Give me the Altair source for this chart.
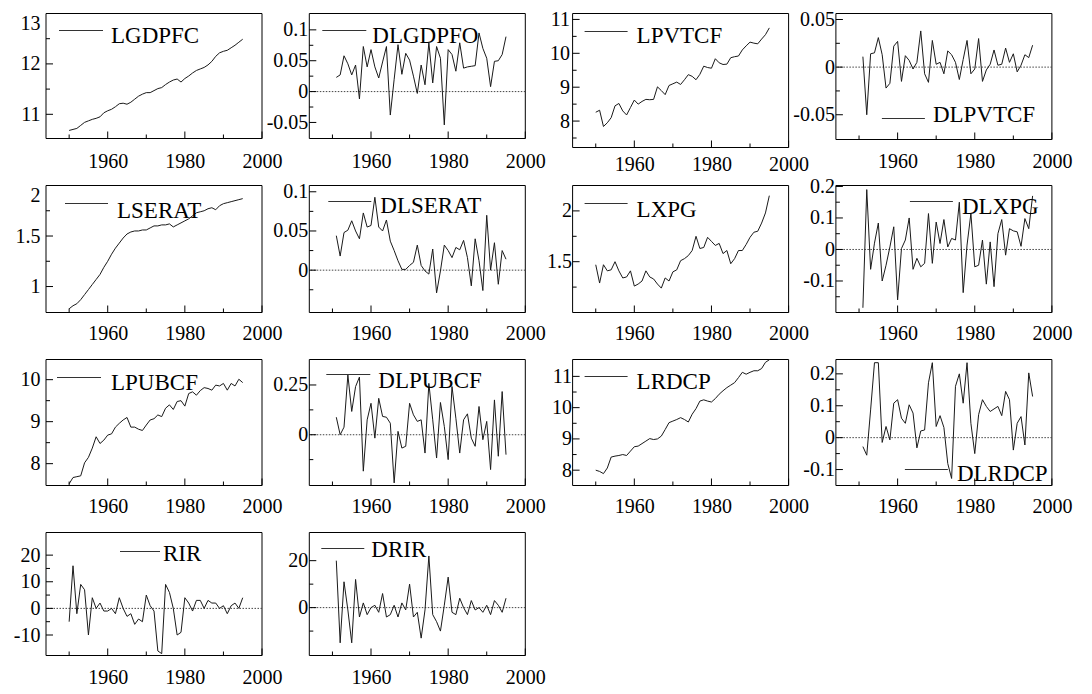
import altair as alt
import pandas as pd

YEARS = list(range(1950, 1996))
DYEARS = list(range(1951, 1996))

LGDPFC = [10.68, 10.70, 10.72, 10.78, 10.84, 10.87, 10.90, 10.92, 10.95, 11.03,
          11.07, 11.10, 11.15, 11.21, 11.22, 11.20, 11.24, 11.30, 11.36, 11.40,
          11.43, 11.43, 11.47, 11.51, 11.53, 11.59, 11.64, 11.68, 11.70, 11.64,
          11.71, 11.76, 11.82, 11.87, 11.90, 11.93, 11.98, 12.05, 12.15, 12.22,
          12.25, 12.27, 12.32, 12.37, 12.43, 12.49]
DLGDPFO = [0.023, 0.027, 0.058, 0.045, 0.027, 0.043, -0.012, 0.073, 0.040, 0.068,
           0.040, 0.022, 0.048, 0.073, -0.038, 0.020, 0.076, 0.028, 0.062, 0.051,
           0.025, -0.003, 0.043, 0.011, 0.079, 0.014, 0.073, 0.054, -0.054, 0.068,
           0.060, 0.033, 0.079, 0.038, 0.040, 0.041, 0.042, 0.095, 0.070, 0.054,
           0.008, 0.049, 0.050, 0.060, 0.089]
LPVTCF = [8.26, 8.32, 7.84, 7.95, 8.10, 8.45, 8.52, 8.30, 8.18, 8.40,
          8.62, 8.50, 8.58, 8.64, 8.63, 8.64, 9.01, 8.90, 8.78, 9.05,
          9.10, 9.15, 9.08, 9.22, 9.37, 9.32, 9.22, 9.38, 9.62, 9.58,
          9.56, 9.84, 9.72, 9.67, 9.68, 9.87, 9.90, 9.92, 10.10, 10.22,
          10.33, 10.30, 10.28, 10.42, 10.55, 10.75]
DLPVTCF = [0.011, -0.050, 0.014, 0.015, 0.031, 0.013, -0.022, -0.017, 0.022, 0.027,
           -0.015, 0.012, 0.007, -0.002, 0.005, 0.038, -0.007, -0.016, 0.028, 0.003,
           0.005, -0.007, 0.017, 0.013, 0.005, -0.013, 0.008, 0.028, -0.007, -0.002,
           0.030, -0.015, -0.003, 0.003, 0.018, 0.002, 0.003, 0.020, 0.005, 0.014,
           -0.005, 0.002, 0.013, 0.010, 0.023]
LSERAT = [0.78, 0.81, 0.83, 0.87, 0.92, 0.97, 1.02, 1.07, 1.12, 1.19,
          1.25, 1.32, 1.38, 1.43, 1.48, 1.52, 1.54, 1.55, 1.55, 1.56,
          1.56, 1.58, 1.60, 1.60, 1.61, 1.61, 1.62, 1.59, 1.61, 1.63,
          1.65, 1.67, 1.70, 1.73, 1.74, 1.75, 1.77, 1.78, 1.76, 1.80,
          1.82, 1.83, 1.84, 1.85, 1.86, 1.87]
DLSERAT = [0.044, 0.018, 0.048, 0.051, 0.063, 0.050, 0.040, 0.073, 0.055, 0.057,
           0.093, 0.055, 0.050, 0.064, 0.037, 0.025, 0.012, 0.001, 0.001, 0.006,
           0.010, 0.032, 0.006, -0.001, -0.005, 0.027, -0.029, -0.001, 0.032, 0.025,
           0.016, 0.029, 0.026, 0.038, 0.016, -0.020, 0.040, 0.012, -0.026, 0.070,
           0.000, 0.035, -0.018, 0.025, 0.014]
LXPG = [1.47, 1.29, 1.47, 1.41, 1.42, 1.50, 1.41, 1.34, 1.35, 1.41,
        1.26, 1.28, 1.31, 1.41, 1.35, 1.33, 1.28, 1.24, 1.34, 1.31,
        1.40, 1.42, 1.51, 1.53, 1.56, 1.61, 1.75, 1.63, 1.64, 1.74,
        1.70, 1.66, 1.68, 1.58, 1.61, 1.48, 1.53, 1.61, 1.61, 1.67,
        1.74, 1.79, 1.80, 1.88, 1.98, 2.15]
DLXPG = [-0.185, 0.190, -0.063, 0.020, 0.084, -0.100, -0.050, 0.008, 0.072, -0.160,
         0.003, 0.030, 0.100, -0.063, -0.028, -0.055, -0.044, 0.114, -0.044, 0.087,
         0.019, 0.095, 0.008, 0.035, 0.030, 0.150, -0.137, 0.014, 0.114, -0.055,
         -0.050, 0.030, -0.110, 0.024, -0.118, 0.050, 0.095, -0.018, 0.066, 0.059,
         0.056, 0.010, 0.098, 0.066, 0.170]
LPUBCF = [7.52, 7.67, 7.69, 7.71, 8.02, 8.15, 8.37, 8.64, 8.48, 8.56,
          8.68, 8.71, 8.87, 8.96, 9.04, 9.10, 8.87, 8.87, 8.82, 8.79,
          8.92, 9.04, 9.07, 9.16, 9.12, 9.32, 9.40, 9.29, 9.48, 9.50,
          9.37, 9.67, 9.71, 9.63, 9.74, 9.81, 9.79, 9.75, 9.87, 9.85,
          9.91, 9.75, 9.91, 9.85, 10.01, 9.93]
DLPUBCF = [0.088, 0.000, 0.038, 0.300, 0.117, 0.242, 0.290, -0.183, 0.075, 0.158,
           -0.017, 0.183, 0.092, 0.088, 0.058, -0.242, 0.017, -0.067, -0.058, 0.158,
           0.100, 0.067, 0.075, -0.092, 0.258, 0.075, -0.117, 0.162, 0.042, -0.125,
           0.242, 0.083, -0.092, 0.075, 0.105, -0.017, -0.058, 0.142, -0.025, 0.067,
           -0.175, 0.175, -0.108, 0.217, -0.100]
LRDCP = [8.00, 7.96, 7.89, 8.07, 8.42, 8.45, 8.47, 8.50, 8.47, 8.61,
         8.75, 8.77, 8.85, 8.93, 9.01, 8.98, 9.00, 9.09, 9.30, 9.52,
         9.57, 9.62, 9.68, 9.62, 9.54, 9.79, 9.97, 10.21, 10.25, 10.21,
         10.18, 10.29, 10.43, 10.54, 10.64, 10.72, 10.80, 10.96, 11.13, 11.07,
         11.13, 11.18, 11.18, 11.25, 11.45, 11.53]
DLRDCP = [-0.028, -0.055, 0.087, 0.235, 0.235, -0.015, 0.035, -0.007, 0.108, 0.119,
          0.061, 0.045, 0.103, 0.077, -0.032, 0.021, 0.024, 0.172, 0.235, 0.035,
          0.069, 0.032, -0.081, -0.128, 0.161, 0.200, 0.108, 0.235, 0.045, -0.050,
          0.072, 0.119, 0.098, 0.082, 0.090, 0.098, 0.069, 0.145, 0.119, -0.039,
          0.045, 0.066, -0.023, 0.203, 0.129]
RIR = [-5, 16, -2, 9, 7, -10, 4, 0, 2, -1,
       -1, 0, -2, 4, 0, -3, -2, -6, -4, -5,
       5, 1, -1, -16, -17, 9, 6, 0, -10, -9,
       4, 2, -1, 3, 3, 0, 3, 2, 2, 0,
       1, -2, 1, 2, 0, 4]
DRIR = [20, -15, 11, -1, -15, 12, -4, 2, -3, 0,
        1, -2, 6, -4, -3, 1, -4, 2, -1, 10,
        -4, -2, -13, -1, 22, -3, -6, -10, 1, 13,
        -2, -3, 4, 0, -3, 3, -1, 0, -2, 1,
        -3, 3, 1, -2, 4]

FONT = "Liberation Serif"
TICK_FS = 20
LEG_FS = 23
W = 216
XDOM = [1944, 2000]
XMAJOR = [1960, 1980, 2000]
XMINOR = [1950, 1970, 1990]

# name, years, values, y-domain, major ticks, minor ticks, layout height, frame height,
# x label pad, y label pad, flush top label, legend (x1, x2, y, tx, ty), zero line
PANELS = [
    ("LGDPFC", YEARS, LGDPFC, [10.52, 13.0], [11, 12, 13], [11.5, 12.5], 125, 125, 13, 6, True, (13, 57, 17, 65, 29.7), False),
    ("DLGDPFO", DYEARS, DLGDPFO, [-0.076, 0.1265], [-0.05, 0, 0.05, 0.1], [-0.025, 0.025, 0.075], 125, 125, 13, 1.5, False, (13, 57, 17, 63, 29.7), True),
    ("LPVTCF", YEARS, LPVTCF, [7.22, 11.175], [8, 9, 10, 11], [7.5, 8.5, 9.5, 10.5], 125, 134, 16, 3, False, (12, 55, 18, 64, 29.7), False),
    ("DLPVTCF", DYEARS, DLPVTCF, [-0.076, 0.0563], [-0.05, 0, 0.05], [-0.025, 0.025], 125, 126, 13, 1.5, False, (46, 89, 105, 97, 108.7), True),
    ("LSERAT", YEARS, LSERAT, [0.743, 2.0], [1, 1.5, 2], [1.25, 1.75], 127, 127, 10.5, 6, True, (19, 62, 18, 71, 32.7), False),
    ("DLSERAT", DYEARS, DLSERAT, [-0.054, 0.108], [0, 0.05, 0.1], [-0.025, 0.025, 0.075], 127, 127, 10.5, 1.5, False, (19, 62, 16, 71, 27.7), True),
    ("LXPG", YEARS, LXPG, [1.0, 2.25], [1.5, 2], [1.25, 1.75], 127, 127, 10.5, 1, False, (12, 55, 18, 64, 31), False),
    ("DLXPG", DYEARS, DLXPG, [-0.2, 0.203], [-0.1, 0, 0.1, 0.2], [-0.15, -0.05, 0.05, 0.15], 127, 127, 10.5, 1.5, False, (74, 117, 16, 126, 28.3), True),
    ("LPUBCF", YEARS, LPUBCF, [7.48, 10.48], [8, 9, 10], [8.5, 9.5], 126, 126, 10.5, 6, False, (11, 55, 18, 65, 30.3), False),
    ("DLPUBCF", DYEARS, DLPUBCF, [-0.255, 0.378], [0, 0.25], [-0.125, 0.125], 126, 126, 10.5, 1.5, False, (17, 61, 15, 69, 28.3), True),
    ("LRDCP", YEARS, LRDCP, [7.51, 11.54], [8, 9, 10, 11], [8.5, 9.5, 10.5], 126, 126, 10.5, 1, False, (12, 55, 17, 64, 29.7), False),
    ("DLRDCP", DYEARS, DLRDCP, [-0.15, 0.245], [-0.1, 0, 0.1, 0.2], [-0.05, 0.05, 0.15], 126, 126, 10.5, 1.5, False, (69, 112, 110, 121, 121.3), True),
    ("RIR", YEARS, RIR, [-17.7, 28.5], [-10, 0, 10, 20], [-5, 5, 15], 123, 123, 11.5, 6, False, (74, 114, 19, 117, 28), True),
    ("DRIR", DYEARS, DRIR, [-20.4, 32], [0, 20], [-10, 10], 123, 123, 11.5, 1.5, False, (12, 55, 16, 62, 24), True),
]

ONE = alt.Data(values=[{"k": 1}])


def make_panel(p):
    name, years, vals, ydom, major, minor, h, fh, xpad, ypad, flush, leg, zero = p
    df = pd.DataFrame({"year": years, "value": vals})
    xs = alt.Scale(domain=XDOM, nice=False, zero=False)
    ys = alt.Scale(domain=ydom, nice=False, zero=False, range=[fh, 0])

    line = alt.Chart(df).mark_line(color="#1a1a1a", strokeWidth=1).encode(
        x=alt.X("year:Q", scale=xs, axis=alt.Axis(
            values=XMAJOR, format="d", ticks=False, domain=False, grid=False,
            labelFont=FONT, labelFontSize=TICK_FS, labelColor="black",
            labelPadding=xpad, labelFlush=False, labelOverlap=False, title=None)),
        y=alt.Y("value:Q", scale=ys, axis=alt.Axis(
            values=major, labelExpr="'' + datum.value", ticks=False,
            domain=False, grid=False, labelFont=FONT, labelFontSize=TICK_FS,
            labelColor="black", labelPadding=ypad, labelFlush=flush,
            labelOverlap=False, title=None)),
    )

    def ytick(vals_, size):
        d = pd.DataFrame({"v": vals_})
        return alt.Chart(d).mark_rule(color="black", strokeWidth=1).encode(
            y=alt.Y("v:Q", scale=ys, axis=None), x=alt.value(0), x2=alt.value(size))

    def xtick(vals_, size):
        d = pd.DataFrame({"v": vals_})
        return alt.Chart(d).mark_rule(color="black", strokeWidth=1).encode(
            x=alt.X("v:Q", scale=xs, axis=None), y=alt.value(fh), y2=alt.value(fh - size))

    layers = []
    frame = alt.Chart(ONE).mark_rect(fill="transparent", stroke="black", strokeWidth=1).encode(
        x=alt.value(0), x2=alt.value(W), y=alt.value(0), y2=alt.value(fh))
    layers.append(frame)
    if zero:
        layers.append(alt.Chart(ONE).mark_rule(color="#444", strokeWidth=1, strokeDash=[1.5, 1.5]).encode(
            y=alt.YDatum(0, type="quantitative", scale=ys, axis=None)))
    layers.append(line)
    layers.append(ytick(major, 7))
    layers.append(ytick(minor, 4))
    layers.append(xtick(XMAJOR, 7))
    layers.append(xtick(XMINOR, 4))
    x1, x2, ly, tx, ty = leg
    layers.append(alt.Chart(ONE).mark_rule(color="#333", strokeWidth=1).encode(
        x=alt.value(x1), x2=alt.value(x2), y=alt.value(ly)))
    layers.append(alt.Chart(ONE).mark_text(
        text=name, align="left", baseline="alphabetic", font=FONT,
        fontSize=LEG_FS, color="black").encode(x=alt.value(tx), y=alt.value(ty)))

    return alt.layer(*layers).resolve_axis(x="independent", y="independent").properties(
        width=W, height=h)


charts = [make_panel(p) for p in PANELS]

chart = alt.concat(
    *charts, columns=4, spacing={"row": 47, "column": 47.3}, bounds="flush"
).configure_view(stroke=None).properties(
    padding={"left": 5, "top": 0.5, "right": 5, "bottom": 5})

chart.save("out.html", embed_options={"renderer": "svg", "actions": False})
